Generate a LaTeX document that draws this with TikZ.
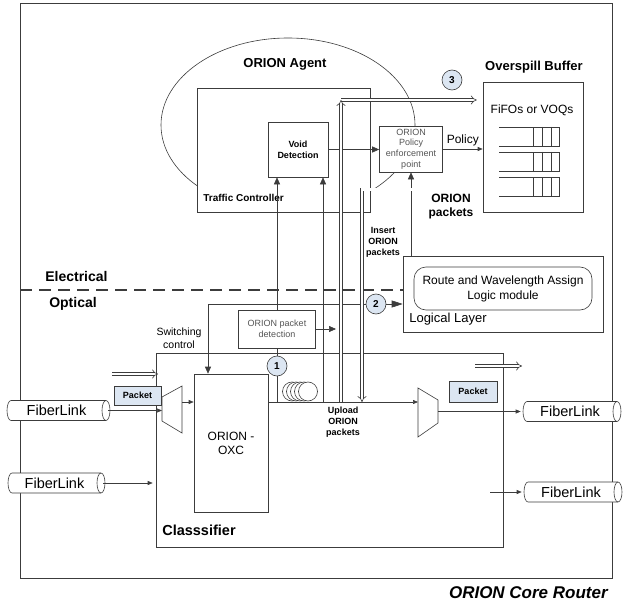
\documentclass[tikz,border=0pt]{standalone}
\usepackage{fontspec}
\setmainfont{Liberation Sans}
\usetikzlibrary{arrows.meta, shapes.geometric, calc}

\definecolor{pktblue}{HTML}{DCE6F2}
\definecolor{linegray}{HTML}{3C3C3C}
\definecolor{txtgray}{HTML}{555555}
\newcommand{\fs}[2]{\fontsize{#1}{#2}\selectfont}
% fibre link tube: name, centre x, centre y, length
\newcommand{\fiberlink}[4]{%
    \draw[fill = white] (#2 - #4 / 2 + 4, #3 - 10) -- (#2 + #4 / 2 - 4, #3 - 10)
    arc[start angle = 90, end angle = -90, x radius = 4pt, y radius = 10pt]
    -- (#2 - #4 / 2 + 4, #3 + 10)
    arc[start angle = 270, end angle = 90, x radius = 4pt, y radius = 10pt] -- cycle;
    \draw (#2 + #4 / 2 - 4, #3 - 10)
    arc[start angle = 90, end angle = 270, x radius = 4pt, y radius = 10pt];
    \node[font = \fs{14.5}{17}, minimum width = #4 pt, minimum height = 20pt] (#1)
    at (#2 - 2, #3) {FiberLink};}

\begin{document}
\begin{tikzpicture}[x = 1pt, y = -1pt, % pixel grid, y runs down
                > = {Triangle[length = 7pt, width = 6pt]}, % arrow head style
                color = linegray, semithick, % line style
                every node/.style = {inner sep = 0pt, text = black}
            ]

            \tikzstyle{box}=[draw, rectangle, fill = white]
            \tikzstyle{num}=[draw, circle, fill = pktblue, minimum size = 20pt,
            font = \fs{10}{12}\bfseries]
            \tikzstyle{pkt}=[draw, rectangle, fill = pktblue, font = \fs{9}{11}\bfseries]
            \tikzstyle{head}=[font = \fs{13}{15}\bfseries]
            \tikzstyle{tag}=[font = \fs{9}{11}\bfseries, align = center]
            \tikzstyle{faint}=[font = \fs{9}{10.7}, text = txtgray, align = center]
            \tikzstyle{hollow}=[double = white, double distance = 2.5pt,
            line width = 0.6pt, -{Implies[length = 5pt, width = 11pt]}]
            \tikzstyle{sm}=[-{Triangle[length = 5pt, width = 4pt]}]

            \useasboundingbox (0, 0) rectangle (629, 607);

            % router frame
            \node[box, fill = none, minimum width = 592pt, minimum height = 575pt]
            (router) at (316, 290.5) {};
            \node[anchor = east, font = \fs{17}{20}\bfseries\itshape] (routerlbl)
            at (608, 593) {ORION Core Router};

            % electrical side
            \node[draw, ellipse, minimum width = 254pt, minimum height = 174pt]
            (agent) at (288, 125) {};
            \node[head] (agentlbl) at (285, 64) {ORION Agent};
            \node[box, minimum width = 173pt, minimum height = 124pt] (tc) at
            (283.5, 150) {};
            \node[anchor = west, font = \fs{10}{12}\bfseries] (tclbl) at (203, 198)
            {Traffic Controller};
            \node[box, tag, minimum width = 60pt, minimum height = 55pt] (void) at
            (298, 149.5) {Void\\Detection};
            \node[box, faint, minimum width = 63pt, minimum height = 46pt] (pep) at
            (411, 149) {ORION\\Policy\\enforcement\\point};

            \node[box, minimum width = 100pt, minimum height = 130pt] (buffer) at
            (533, 147) {};
            \node[head] (bufferlbl) at (534, 67) {Overspill Buffer};
            \node[font = \fs{12}{14}] (fifolbl) at (532, 110) {FiFOs or VOQs};
            \foreach \y in {127, 152, 177} {
                \draw (499, \y) -- (559, \y) (499, \y + 19) -- (559, \y + 19);
                \draw (533, \y) rectangle (559, \y + 19);
                \draw (542, \y) -- (542, \y + 19) (551, \y) -- (551, \y + 19);
            }

            \node[box, minimum width = 200pt, minimum height = 76pt] (logic) at
            (503, 294) {};
            \node[box, rounded corners = 12pt, align = center, font = \fs{12}{15},
            minimum width = 178pt, minimum height = 43pt] (rwa) at (503, 288.5)
            {Route and Wavelength Assign\\Logic module};
            \node[anchor = west, font = \fs{13}{15}] (logiclbl) at (409, 319)
            {Logical Layer};

            % electrical / optical border
            \coordinate (eoleft) at (20, 290);
            \draw[line width = 1.6pt, dash pattern = on 12pt off 7pt] (eoleft) --
            (eoleft -| logic.west);
            \node[anchor = west, font = \fs{14}{16}\bfseries] (eleclbl) at (45, 276)
            {Electrical};
            \node[anchor = west, font = \fs{14}{16}\bfseries] (optlbl) at (49, 304)
            {Optical};

            % optical side
            \node[box, fill = none, minimum width = 347pt, minimum height = 194pt]
            (classifier) at (329.5, 450) {};
            \node[anchor = west, font = \fs{14.5}{17}\bfseries] (classlbl) at
            (162, 530) {Classsifier};
            \node[box, faint, minimum width = 77pt, minimum height = 38pt] (detect)
            at (277, 329) {ORION packet\\detection};
            \node[box, align = center, font = \fs{12}{14}, minimum width = 74pt,
            minimum height = 138pt] (oxc) at (231, 443) {ORION -\\OXC};
            \node[align = center, font = \fs{10.5}{13}] (swlbl) at (179, 338)
            {Switching\\control};

            \node[num] (c1) at (277, 366) {1};
            \node[num] (c2) at (376, 304) {2};
            \node[num] (c3) at (452, 80) {3};

            \foreach \i in {0, ..., 4}
                \node[draw, fill = white, circle, minimum size = 19pt] (coil\i) at
                (292 + 4 * \i, 391.5) {};

            \node[pkt, minimum width = 47pt, minimum height = 19pt] (pktin) at
            (137.5, 395.5) {Packet};
            \node[pkt, minimum width = 48pt, minimum height = 21pt] (pktout) at
            (473, 391.5) {Packet};
            \coordinate (flowin) at (112, 374); \coordinate (flowinend) at (158, 374);
            \coordinate (flowout) at (475, 366); \coordinate (flowoutend) at (522, 366);
            \draw[hollow] (flowin) -- (flowinend);
            \draw[hollow] (flowout) -- (flowoutend);

            \fiberlink{fin1}{58.5}{410.5}{103}
            \fiberlink{fin2}{56.5}{483}{97}
            \fiberlink{fout1}{572}{411.5}{98}
            \fiberlink{fout2}{573}{492}{98}

            % mux / demux
            \draw[fill = white] (162, 397) -- (182, 386) -- (182, 433) -- (162, 421)
            -- cycle;
            \draw[fill = white] (418, 388) -- (438, 400) -- (438, 423) -- (418, 437)
            -- cycle;
            \coordinate (muxinW) at (162, 410.5); \coordinate (muxinE) at (182, 402);
            \coordinate (muxoutW) at (418, 402); \coordinate (muxoutE) at (438, 411.5);

            % connectors
            \coordinate (oxcout) at (268, 402);
            \coordinate (tapvoid) at (323, 402);
            \coordinate (tapout) at (490, 492);
            \coordinate (swctl) at (208, 304);
            \coordinate (detectout) at (336, 329);
            \coordinate (upbot) at (341, 402); \coordinate (uptop) at (341, 100);
            \coordinate (opkt) at (362, 189.5);

            \path[sm] (fin1.east) edge (muxinW);
            \path[sm] (muxinE) edge (muxinE -| oxc.west);
            \path[sm, shorten > = 3pt] (fin2.east) edge (fin2.east -| classifier.west);
            \path[sm] (oxcout) edge (muxoutW);
            \path[sm] (muxoutE) edge (fout1.west);
            \path[sm] (tapout) edge (fout2.west);
            \path (detect.south) edge (c1.north);
            \path (c1.south) edge (c1.south |- oxcout);
            \path[->] (detect.north) edge (detect.north |- void.south);
            \path[->] (tapvoid) edge (tapvoid |- void.south);
            \path[->] (void.east) edge (void.east -| pep.west);
            \path[sm] (pep.east) edge node[above = 3pt, font = \fs{12}{14}] (policylbl)
            {Policy} (pep.east -| buffer.west);
            \path[->] (pep.south |- logic.north) edge (pep.south);
            \path[-{Triangle[length = 11pt, width = 7pt]}] (c2.east) edge (c2 -| logic.west);
            \draw[->] (c2.west) -- (swctl) -- (swctl |- oxc.north);
            \path[->] (detect.east) edge (detectout);

            \draw[hollow, shorten > = 6pt] (uptop) -- (uptop -| buffer.west);
            \draw[hollow] (upbot) -- (uptop);
            \draw[hollow] (buffer.west |- opkt) -- (opkt) -- (opkt |- oxcout);

            \node[font = \fs{12}{14.5}\bfseries, align = center] (opktlbl) at
            (451, 206.5) {ORION\\packets};
            \node[tag] (insertlbl) at (383, 242) {Insert\\ORION\\packets};
            \node[tag] (uploadlbl) at (343, 422) {Upload\\ORION\\packets};
\end{tikzpicture}
\end{document}
